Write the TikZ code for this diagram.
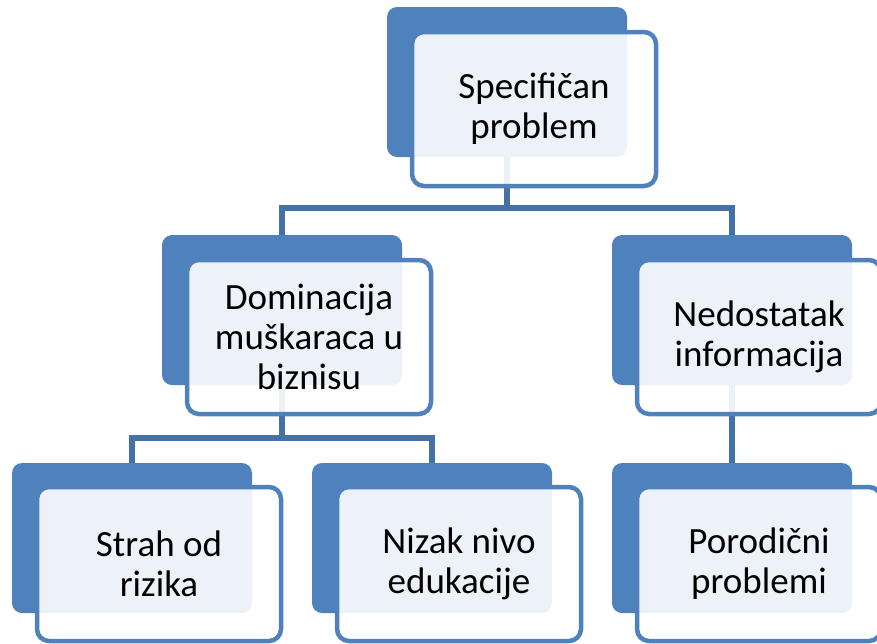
\documentclass[tikz,border=0pt]{standalone}
\usepackage{fontspec}
\setmainfont{Carlito}
\definecolor{accent}{HTML}{4F81BD}
\definecolor{conn}{HTML}{4671A5}
\begin{document}
\begin{tikzpicture}[x=1pt,y=-1pt,
  back/.style={fill=accent, rounded corners=10pt, minimum width=240pt, minimum height=150pt, inner sep=0pt},
  front/.style={draw=accent, line width=4.5pt, fill=white, fill opacity=0.9, text opacity=1,
    rounded corners=12pt, minimum width=244pt, minimum height=154pt, inner sep=0pt,
    align=center, font=\fontsize{37}{40}\selectfont},
  link/.style={draw=conn, line width=5.5pt}]
\useasboundingbox (0,0) rectangle (877,643);
% back panels
\node[back] (b1) at (507,82) {};
\node[back] (b2) at (282,310) {};
\node[back] (b3) at (732,310) {};
\node[back] (b4) at (132,538) {};
\node[back] (b5) at (432,538) {};
\node[back] (b6) at (732,538) {};
% connectors
\coordinate (j1) at (507,208);
\coordinate (j2) at (282,438);
\draw[link] (b1.south) -- (j1) -| (b2.north);
\draw[link] (j1) -| (b3.north);
\draw[link] (b2.south) -- (j2) -| (b4.north);
\draw[link] (j2) -| (b5.north);
\draw[link] (b3.south) -- (b6.north);
% front panels
\node[front] (f1) at (534,109) {Specifičan\\problem};
\node[front] (f2) at (309,337) {Dominacija\\muškaraca u\\biznisu};
\node[front] (f3) at (759,337) {Nedostatak\\informacija};
\node[front] (f4) at (159,564) {Strah od\\rizika};
\node[front] (f5) at (459,564) {Nizak nivo\\edukacije};
\node[front] (f6) at (759,564) {Porodični\\problemi};
\end{tikzpicture}
\end{document}
